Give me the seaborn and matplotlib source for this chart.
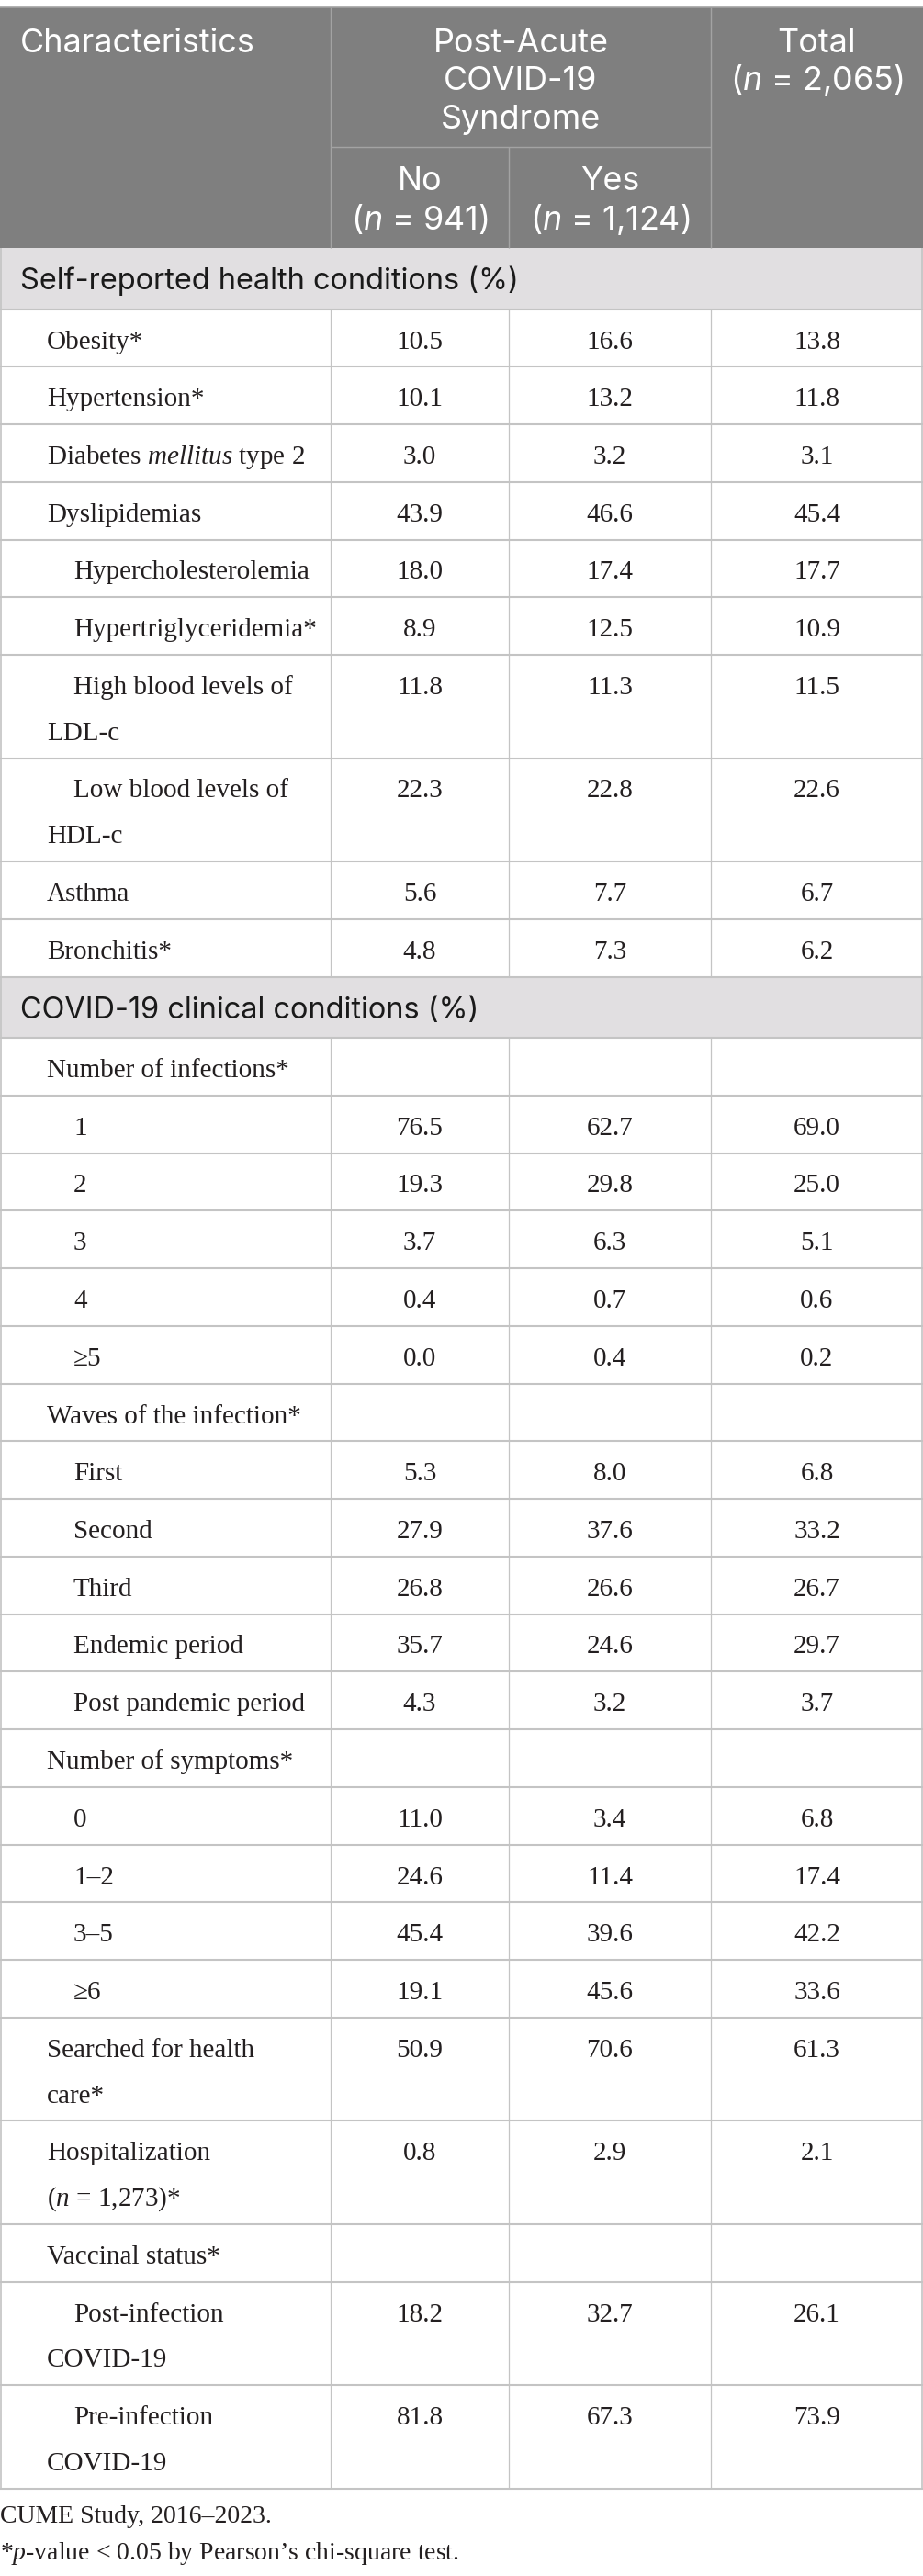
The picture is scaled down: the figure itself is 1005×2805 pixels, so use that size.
import numpy as np
import pandas as pd
import matplotlib.pyplot as plt
import seaborn as sns

sns.set_theme(style="white")
plt.rcParams['font.family'] = ['Liberation Serif', 'DejaVu Serif']
plt.rcParams['mathtext.fontset'] = 'custom'
plt.rcParams['mathtext.rm'] = 'Liberation Serif'
plt.rcParams['mathtext.it'] = 'Liberation Serif:italic'
plt.rcParams['mathtext.sf'] = 'Inter:italic'

# ---- data ----
col_headers = ["No\n($\\mathsf{n}$ = 941)", "Yes\n($\\mathsf{n}$ = 1,124)"]
group_header = "Post-Acute\nCOVID-19\nSyndrome"
total_header = "Total\n($\\mathsf{n}$ = 2,065)"
first_header = "Characteristics"

sec1_title = "Self-reported health conditions (%)"
sec1_labels = ["Obesity*", "Hypertension*", "Diabetes $\\mathit{mellitus}$ type 2", "Dyslipidemias",
               "Hypercholesterolemia", "Hypertriglyceridemia*", "High blood levels of\nLDL-c",
               "Low blood levels of\nHDL-c", "Asthma", "Bronchitis*"]
sec1_levels = [1, 1, 1, 1, 2, 2, 2, 2, 1, 1]
sec1_no = [10.5, 10.1, 3.0, 43.9, 18.0, 8.9, 11.8, 22.3, 5.6, 4.8]
sec1_yes = [16.6, 13.2, 3.2, 46.6, 17.4, 12.5, 11.3, 22.8, 7.7, 7.3]
sec1_total = [13.8, 11.8, 3.1, 45.4, 17.7, 10.9, 11.5, 22.6, 6.7, 6.2]

sec2_title = "COVID-19 clinical conditions (%)"
sec2_labels = ["Number of infections*", "1", "2", "3", "4", "≥5",
               "Waves of the infection*", "First", "Second", "Third", "Endemic period", "Post pandemic period",
               "Number of symptoms*", "0", "1–2", "3–5", "≥6",
               "Searched for health\ncare*", "Hospitalization\n($\\mathit{n}$ = 1,273)*",
               "Vaccinal status*", "Post-infection\nCOVID-19", "Pre-infection\nCOVID-19"]
sec2_levels = [1, 2, 2, 2, 2, 2, 1, 2, 2, 2, 2, 2, 1, 2, 2, 2, 2, 1, 1, 1, 2, 2]
sec2_no = [None, 76.5, 19.3, 3.7, 0.4, 0.0, None, 5.3, 27.9, 26.8, 35.7, 4.3,
           None, 11.0, 24.6, 45.4, 19.1, 50.9, 0.8, None, 18.2, 81.8]
sec2_yes = [None, 62.7, 29.8, 6.3, 0.7, 0.4, None, 8.0, 37.6, 26.6, 24.6, 3.2,
            None, 3.4, 11.4, 39.6, 45.6, 70.6, 2.9, None, 32.7, 67.3]
sec2_total = [None, 69.0, 25.0, 5.1, 0.6, 0.2, None, 6.8, 33.2, 26.7, 29.7, 3.7,
              None, 6.8, 17.4, 42.2, 33.6, 61.3, 2.1, None, 26.1, 73.9]

footnotes = ["CUME Study, 2016–2023.", "*$\\mathit{p}$-value < 0.05 by Pearson’s chi-square test."]

sections = [
    (sec1_title, pd.DataFrame({'label': sec1_labels, 'level': sec1_levels,
                               'no': sec1_no, 'yes': sec1_yes, 'total': sec1_total})),
    (sec2_title, pd.DataFrame({'label': sec2_labels, 'level': sec2_levels,
                               'no': sec2_no, 'yes': sec2_yes, 'total': sec2_total})),
]

# ---- layout ----
W, H = 1005, 2805
col_x = [0, 360, 554, 774, 1005]
val_cx = [(col_x[i] + col_x[i + 1]) / 2 for i in range(1, 4)]
indent = {1: 51, 2: 80}
row_h, line_h = 62.75, 49.75
sec_h = 66.5
head_top, head_mid, head_bot = 8, 160, 270

head_bg = '#7f7f7f'
head_line = '#a3a3a3'
sec_bg = '#e1dfe1'
grid_c = '#c4c4c4'
txt_c = '#231f20'

SANS = ['Inter', 'DejaVu Sans']
body_fs = 21
sans_fs = 23.4
head_fs = 25.9

fig, ax = plt.subplots(figsize=(W / 100, H / 100), dpi=100)
fig.subplots_adjust(0, 0, 1, 1)
ax.set_xlim(0, W)
ax.set_ylim(H, 0)
ax.axis('off')

# header block
ax.fill_between([0, W], head_top, head_bot, color=head_bg, lw=0)
ax.hlines(head_top, 0, W, color=head_line, lw=1.2)
ax.vlines([col_x[1], col_x[3]], head_top, head_bot, color=head_line, lw=1.0)
ax.vlines(col_x[2], head_mid, head_bot, color=head_line, lw=1.0)
ax.hlines(head_mid, col_x[1], col_x[3], color=head_line, lw=1.0)

def lines_at(x, y0, text, ha, fs, family, color, step):
    for k, ln in enumerate(text.split('\n')):
        ax.text(x, y0 + k * step, ln, ha=ha, va='baseline', fontsize=fs,
                family=family, color=color)

lines_at(22, 57, first_header, 'left', head_fs, SANS, 'white', 41.5)
lines_at((col_x[1] + col_x[3]) / 2, 57, group_header, 'center', head_fs, SANS, 'white', 41.5)
lines_at(val_cx[2], 57, total_header, 'center', head_fs, SANS, 'white', 41.5)
for cx, hd in zip(val_cx[:2], col_headers):
    lines_at(cx, 207, hd, 'center', head_fs, SANS, 'white', 43)

# body
y = head_bot
hlines_y = []
for title, df in sections:
    ax.fill_between([0, W], y, y + sec_h, color=sec_bg, lw=0)
    ax.text(22, y + 45.5, title, ha='left', va='baseline', fontsize=sans_fs,
            family=SANS, color='#1a1a1a')
    y += sec_h
    hlines_y.append(y)
    for _, r in df.iterrows():
        parts = r['label'].split('\n')
        h = row_h + line_h * (len(parts) - 1)
        for k, ln in enumerate(parts):
            x0 = indent[r['level']] if k == 0 else indent[1]
            ax.text(x0, y + 43 + k * line_h, ln, ha='left', va='baseline',
                    fontsize=body_fs, color=txt_c)
        for cx, key in zip(val_cx, ['no', 'yes', 'total']):
            v = r[key]
            if v is not None and not pd.isna(v):
                ax.text(cx, y + 43, f"{v:.1f}", ha='center', va='baseline',
                        fontsize=body_fs, color=txt_c)
        ax.vlines(col_x[1:4], y, y + h, color=grid_c, lw=0.9)
        y += h
        hlines_y.append(y)
    table_bottom = y

ax.hlines(hlines_y, 0, W, color=grid_c, lw=1.5)
ax.vlines([0.6, W - 0.6], head_bot, table_bottom, color=grid_c, lw=1.2)

ax.text(0, 2747, footnotes[0], ha='left', va='baseline', fontsize=20, color=txt_c)
ax.text(0, 2787, footnotes[1], ha='left', va='baseline', fontsize=20, color=txt_c)

fig.savefig('out.png', dpi=100)
